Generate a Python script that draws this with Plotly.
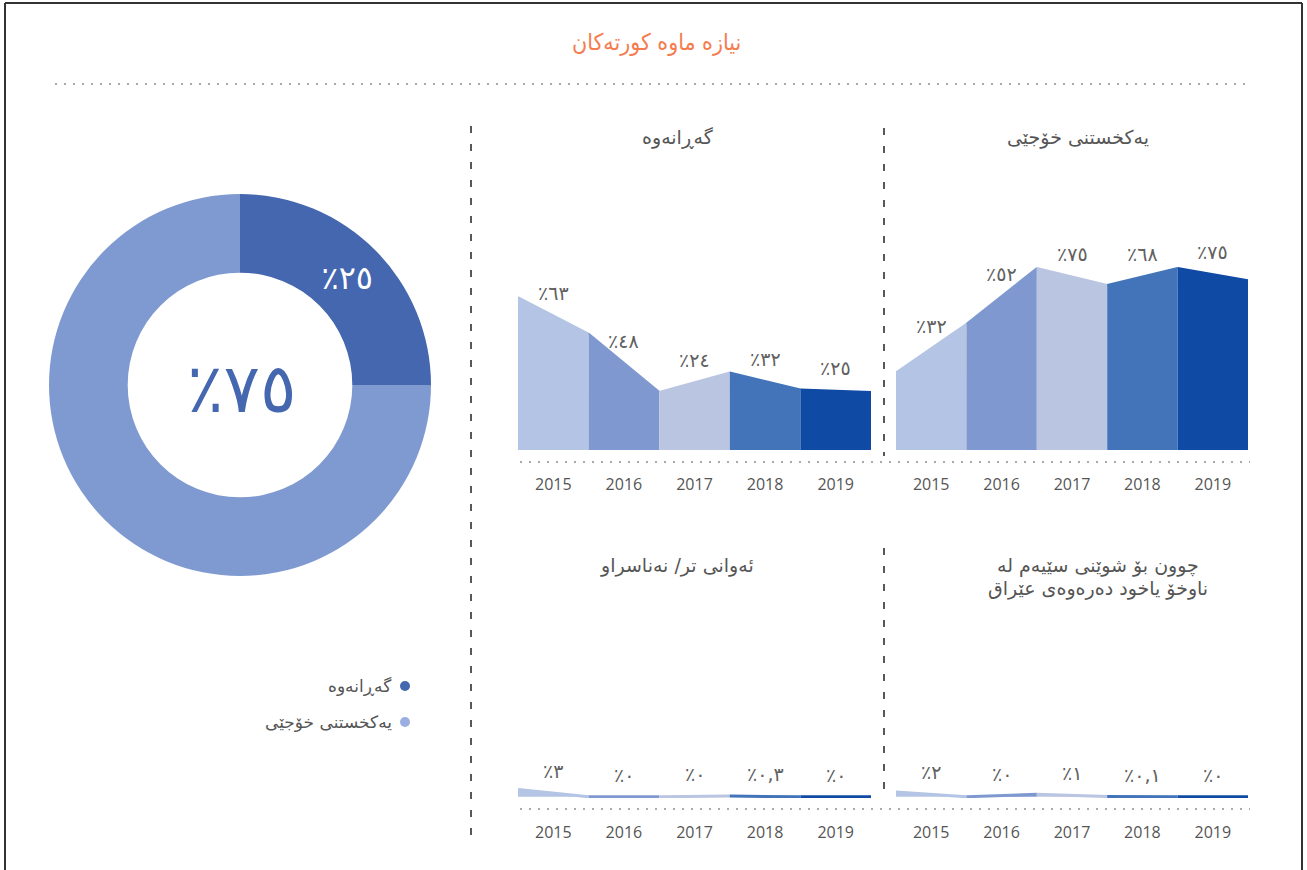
import plotly.graph_objects as go

W, H = 1307, 870

# ---------------- data ----------------
years = ["2015", "2016", "2017", "2018", "2019"]
main_title = "نیازە ماوە کورتەکان"

share_labels = ["گەڕانەوە", "یەکخستنی خۆجێی"]
share_values = [25, 75]
share_colors = ["#4467b0", "#7f9ad1"]
legend_colors = ["#4467b0", "#9aaee0"]

returns_values = [63, 48, 24, 32, 25]
returns_end = 24
local_values = [32, 52, 75, 68, 75]
local_end = 70
other_values = [3, 0, 0, 0.3, 0]
other_end = 0
third_values = [2, 0, 1, 0.1, 0]
third_end = 0

chart_titles = [
    ["گەڕانەوە"],
    ["یەکخستنی خۆجێی"],
    ["ئەوانی تر/ نەناسراو"],
    ["چوون بۆ شوێنی سێیەم لە", "ناوخۆ یاخود دەرەوەی عێراق"],
]
segment_colors = ["#b4c4e4", "#7f99d0", "#bac5e1", "#4374b9", "#0f4aa5"]

AR_DIGITS = "٠١٢٣٤٥٦٧٨٩"


def to_ar(v):
    s = str(int(v)) if float(v).is_integer() else str(v)
    s = s.replace(".", ",")
    return "".join(AR_DIGITS[int(c)] if c.isdigit() else c for c in s)


def px(x):
    return x / W


def py(y):
    return 1 - y / H


AR_FONT = "DejaVu Sans"
TXT = "#555555"
LBL = "#606060"

fig = go.Figure()

# ---------------- donut ----------------
fig.add_trace(go.Pie(
    values=share_values,
    labels=share_labels,
    marker=dict(colors=share_colors, line=dict(width=0)),
    hole=0.588,
    sort=False,
    direction="clockwise",
    rotation=0,
    text=["٪" + to_ar(share_values[0]), ""],
    textinfo="text",
    textposition="inside",
    insidetextorientation="horizontal",
    textfont=dict(size=32, color="white", family=AR_FONT),
    domain=dict(x=[px(49), px(431)], y=[py(576), py(194)]),
    showlegend=False,
    hoverinfo="label+percent",
))

# ---------------- small area charts ----------------
charts = [
    (returns_values, returns_end, "x", "y", (518, 871), (207, 450), [0, 100], 1.5),
    (local_values, local_end, "x2", "y2", (896, 1248), (207, 450), [0, 100], 1.5),
    (other_values, other_end, "x3", "y3", (518, 871), (555, 798), [-0.5, 99.5], 3),
    (third_values, third_end, "x4", "y4", (896, 1248), (555, 798), [-0.5, 99.5], 3),
]

annotations = []
layout_axes = {}
for ci, (vals, endv, xa, ya, xdom, ydom, yrange, lw) in enumerate(charts):
    nxt = vals[1:] + [endv]
    for i, v in enumerate(vals):
        fig.add_trace(go.Scatter(
            x=[i - 0.5, i + 0.5], y=[v, nxt[i]],
            mode="lines", fill="tozeroy",
            fillcolor=segment_colors[i],
            line=dict(color=segment_colors[i], width=lw),
            xaxis=xa, yaxis=ya, showlegend=False,
            hoverinfo="skip",
        ))
        annotations.append(dict(
            x=i, y=(v + nxt[i]) / 2, xref=xa, yref=ya,
            xanchor="center", yanchor="middle",
            text="٪" + to_ar(v), showarrow=False, yshift=22,
            font=dict(size=19, color=LBL, family=AR_FONT),
        ))
    xname = "xaxis" if xa == "x" else "xaxis" + xa[1:]
    yname = "yaxis" if ya == "y" else "yaxis" + ya[1:]
    layout_axes[xname] = dict(
        domain=[px(xdom[0]), px(xdom[1])], range=[-0.5, 4.5],
        anchor=ya, tickvals=list(range(5)), ticktext=years,
        showgrid=False, zeroline=False, showline=False, ticks="",
        tickfont=dict(size=16, color=TXT, family="Open Sans"),
        ticklabelstandoff=23, fixedrange=True,
    )
    layout_axes[yname] = dict(
        domain=[py(ydom[1]), py(ydom[0])], range=yrange, anchor=xa,
        visible=False, fixedrange=True,
    )

# ---------------- legend (hidden axis) ----------------
legend_y = [1, 0]
fig.add_trace(go.Scatter(
    x=[0, 0], y=legend_y, mode="markers",
    marker=dict(size=10, color=legend_colors),
    xaxis="x5", yaxis="y5", showlegend=False, hoverinfo="skip",
    cliponaxis=False,
))
for lab, yy in zip(share_labels, legend_y):
    annotations.append(dict(
        x=0, y=yy, xref="x5", yref="y5", xanchor="right", yanchor="middle",
        xshift=-11, showarrow=False, text=lab,
        font=dict(size=17, color=TXT, family=AR_FONT),
    ))
layout_axes["xaxis5"] = dict(domain=[px(395), px(415)], range=[-1, 1],
                             anchor="y5", visible=False, fixedrange=True)
layout_axes["yaxis5"] = dict(domain=[py(740), py(668)], range=[-0.5, 1.5],
                             anchor="x5", visible=False, fixedrange=True)

# ---------------- texts ----------------
annotations.append(dict(
    x=px(656), y=py(43), xref="paper", yref="paper", showarrow=False,
    xanchor="center", yanchor="middle",
    text=main_title, font=dict(size=23, color="#f47c4f", family="DejaVu Sans Condensed"),
))
annotations.append(dict(
    x=px(242), y=py(388), xref="paper", yref="paper", showarrow=False,
    xanchor="center", yanchor="middle",
    text="٪" + to_ar(share_values[1]),
    font=dict(size=68, color="#4467b0", family=AR_FONT),
))
title_pos = [[(678, 137)], [(1078, 137)], [(677, 565)], [(1098, 565), (1098, 588)]]
for lines, poss in zip(chart_titles, title_pos):
    for t, (tx, ty) in zip(lines, poss):
        annotations.append(dict(
            x=px(tx), y=py(ty), xref="paper", yref="paper", showarrow=False,
            xanchor="center", yanchor="middle",
            text=t, font=dict(size=19, color=TXT, family=AR_FONT),
        ))

# ---------------- decorative lines ----------------
dot = "2px,7px"
dash = "7px,11px"
shapes = [
    dict(type="line", xref="paper", yref="paper", x0=px(55), x1=px(1250),
         y0=py(84), y1=py(84), line=dict(color="#aaaaaa", width=2, dash=dot)),
    dict(type="line", xref="paper", yref="paper", x0=px(520), x1=px(1250),
         y0=py(462), y1=py(462), line=dict(color="#aaaaaa", width=2, dash=dot)),
    dict(type="line", xref="paper", yref="paper", x0=px(520), x1=px(1250),
         y0=py(809), y1=py(809), line=dict(color="#aaaaaa", width=2, dash=dot)),
    dict(type="line", xref="paper", yref="paper", x0=px(471), x1=px(471),
         y0=py(126), y1=py(845), line=dict(color="#222222", width=1.5, dash=dash)),
    dict(type="line", xref="paper", yref="paper", x0=px(884), x1=px(884),
         y0=py(128), y1=py(456), line=dict(color="#222222", width=1.5, dash=dash)),
    dict(type="line", xref="paper", yref="paper", x0=px(884), x1=px(884),
         y0=py(548), y1=py(797), line=dict(color="#222222", width=1.5, dash=dash)),
    # frame
    dict(type="line", xref="paper", yref="paper", x0=px(5), x1=px(1302),
         y0=py(3), y1=py(3), line=dict(color="#333333", width=2)),
    dict(type="line", xref="paper", yref="paper", x0=px(5), x1=px(5),
         y0=py(3), y1=py(880), line=dict(color="#333333", width=2)),
    dict(type="line", xref="paper", yref="paper", x0=px(1302), x1=px(1302),
         y0=py(3), y1=py(880), line=dict(color="#333333", width=2)),
]

fig.update_layout(
    width=W, height=H,
    margin=dict(l=0, r=0, t=0, b=0),
    paper_bgcolor="white", plot_bgcolor="rgba(0,0,0,0)",
    annotations=annotations, shapes=shapes,
    showlegend=False,
    **layout_axes,
)

fig.write_html(
    "out.html",
    config={"displayModeBar": False},
    post_script="document.body.style.margin='0';document.body.style.overflow='hidden';",
)
